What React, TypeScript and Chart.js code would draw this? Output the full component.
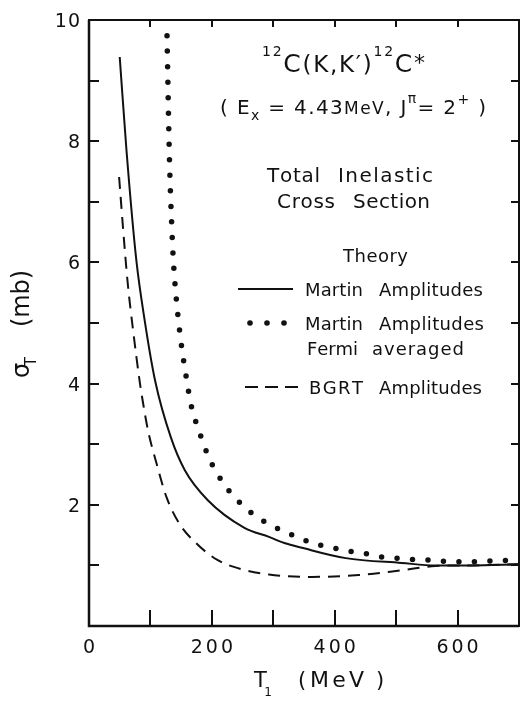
import { useEffect, useRef } from 'react';
import { Chart, registerables } from 'chart.js';

Chart.register(...registerables);

// ---------- data ----------
const energyMartin = [50, 61, 77, 91, 108, 133, 156, 193, 253, 293, 318, 347, 418, 509, 564, 620, 700];
const sigmaMartin = [9.39, 7.85, 6.04, 5.02, 4.03, 3.12, 2.57, 2.08, 1.62, 1.47, 1.37, 1.29, 1.12, 1.04, 1.0, 1.0, 1.02];

const energyFermi = [127, 131, 135, 137, 142, 150, 161, 165, 180, 196, 219, 246, 265, 291, 315, 339, 363, 393, 420, 447, 475, 501, 525, 548, 572, 593, 617, 650, 700];
const sigmaFermi = [9.74, 7.7, 6.53, 6.09, 5.41, 4.67, 3.94, 3.7, 3.19, 2.76, 2.35, 2.03, 1.86, 1.69, 1.57, 1.47, 1.37, 1.3, 1.24, 1.2, 1.14, 1.12, 1.1, 1.09, 1.07, 1.06, 1.06, 1.07, 1.09];

const energyBGRT = [49, 56, 63, 72, 83, 88, 96, 110, 126, 147, 175, 209, 247, 293, 363, 439, 509, 564, 620, 700];
const sigmaBGRT = [7.41, 6.49, 5.66, 4.86, 4.0, 3.68, 3.23, 2.68, 2.13, 1.69, 1.36, 1.09, 0.94, 0.85, 0.81, 0.84, 0.92, 0.99, 1.0, 1.02];

const xTickLabels = [0, 200, 400, 600];
const xTickMarks = [100, 200, 300, 400, 500, 600];
const yTickLabels = [2, 4, 6, 8, 10];
const yTickMarks = [1, 2, 3, 4, 5, 6, 7, 8, 9];

const seriesNames = ['Martin Amplitudes', 'Martin Amplitudes Fermi averaged', 'BGRT Amplitudes'];

const FONT = '"DejaVu Sans", sans-serif';
const INK = '#111111';

type Run = { t: string; size: number; dy?: number };

function drawRunsSpan(ctx: CanvasRenderingContext2D, runs: Run[], x0: number, x1: number, y: number) {
  let natural = 0;
  let n = 0;
  for (const r of runs) {
    ctx.font = `${r.size}px ${FONT}`;
    for (const ch of Array.from(r.t)) {
      natural += ctx.measureText(ch).width;
      n++;
    }
  }
  const extra = n > 1 ? (x1 - x0 - natural) / (n - 1) : 0;
  let x = x0;
  for (const r of runs) {
    ctx.font = `${r.size}px ${FONT}`;
    for (const ch of Array.from(r.t)) {
      ctx.fillText(ch, x, y + (r.dy ?? 0));
      x += ctx.measureText(ch).width + extra;
    }
  }
}

function drawSpaced(ctx: CanvasRenderingContext2D, text: string, x: number, y: number, size: number, spacing: number, align: 'center' | 'right') {
  ctx.font = `${size}px ${FONT}`;
  const chars = Array.from(text);
  let w = 0;
  chars.forEach((c) => (w += ctx.measureText(c).width));
  w += spacing * (chars.length - 1);
  let cx = align === 'center' ? x - w / 2 : x - w;
  for (const c of chars) {
    ctx.fillText(c, cx, y);
    cx += ctx.measureText(c).width + spacing;
  }
}

const framePlugin = {
  id: 'framePlugin',
  afterDraw(chart: any) {
    const ctx: CanvasRenderingContext2D = chart.ctx;
    const a = chart.chartArea;
    const xs = chart.scales.x;
    const ys = chart.scales.y;
    ctx.save();
    ctx.strokeStyle = INK;
    ctx.fillStyle = INK;
    ctx.textAlign = 'left';
    ctx.textBaseline = 'alphabetic';
    ctx.lineCap = 'butt';

    // frame
    ctx.lineWidth = 2;
    ctx.strokeRect(a.left, a.top, a.right - a.left, a.bottom - a.top);
    ctx.lineWidth = 2.5;
    ctx.beginPath();
    ctx.moveTo(a.left, a.top);
    ctx.lineTo(a.left, a.bottom);
    ctx.lineTo(a.right, a.bottom);
    ctx.stroke();

    // inward tick marks
    ctx.lineWidth = 2;
    ctx.beginPath();
    for (const v of xTickMarks) {
      const px = Math.round(xs.getPixelForValue(v));
      ctx.moveTo(px, a.bottom);
      ctx.lineTo(px, a.bottom - 16);
      ctx.moveTo(px, a.top);
      ctx.lineTo(px, a.top + 7);
    }
    for (const v of yTickMarks) {
      const py = Math.round(ys.getPixelForValue(v));
      ctx.moveTo(a.left, py);
      ctx.lineTo(a.left + 10, py);
      ctx.moveTo(a.right, py);
      ctx.lineTo(a.right - 8, py);
    }
    ctx.stroke();

    // tick labels
    for (const v of xTickLabels) {
      drawSpaced(ctx, String(v), xs.getPixelForValue(v), 653, 19, 3, 'center');
    }
    for (const v of yTickLabels) {
      drawSpaced(ctx, String(v), 80, ys.getPixelForValue(v) + 7, 19, 1, 'right');
    }

    // axis titles
    drawRunsSpan(ctx, [{ t: 'T', size: 21 }, { t: '1', size: 12, dy: 9 }], 254, 272, 687);
    drawRunsSpan(ctx, [{ t: '(', size: 21 }], 298, 305, 687);
    drawRunsSpan(ctx, [{ t: 'MeV', size: 22 }], 310, 364, 687);
    drawRunsSpan(ctx, [{ t: ')', size: 21 }], 376, 384, 687);
    ctx.save();
    ctx.translate(29, 380);
    ctx.rotate(-Math.PI / 2);
    drawRunsSpan(ctx, [{ t: 'σ', size: 24 }, { t: 'T', size: 15, dy: 7 }], 2, 23, 0);
    drawRunsSpan(ctx, [{ t: '(mb)', size: 24 }], 53, 110, 0);
    ctx.restore();

    // reaction label
    drawRunsSpan(
      ctx,
      [
        { t: '12', size: 14, dy: -16 },
        { t: 'C', size: 25 },
        { t: '(', size: 23 },
        { t: 'K', size: 23 },
        { t: ',', size: 23 },
        { t: 'K′', size: 23 },
        { t: ')', size: 23 },
        { t: '12', size: 14, dy: -16 },
        { t: 'C', size: 25 },
        { t: '*', size: 22, dy: -2 },
      ],
      262,
      425,
      72
    );
    drawRunsSpan(
      ctx,
      [
        { t: '( E', size: 20 },
        { t: 'x', size: 14, dy: 6 },
        { t: ' = 4.43', size: 20 },
        { t: 'MeV', size: 17 },
        { t: ', J', size: 20 },
        { t: 'π', size: 14, dy: -11 },
        { t: '= 2', size: 20 },
        { t: '+', size: 14, dy: -10 },
        { t: ' )', size: 20 },
      ],
      220,
      486,
      114
    );

    drawRunsSpan(ctx, [{ t: 'Total', size: 20 }], 267, 320, 182);
    drawRunsSpan(ctx, [{ t: 'Inelastic', size: 20 }], 338, 433, 182);
    drawRunsSpan(ctx, [{ t: 'Cross', size: 20 }], 277, 335, 208);
    drawRunsSpan(ctx, [{ t: 'Section', size: 20 }], 353, 430, 208);
    drawRunsSpan(ctx, [{ t: 'Theory', size: 18 }], 343, 408, 262);

    // legend
    const words = seriesNames.map((s) => s.split(' '));
    drawRunsSpan(ctx, [{ t: words[0][0], size: 18 }], 305, 363, 296);
    drawRunsSpan(ctx, [{ t: words[0][1], size: 18 }], 379, 483, 296);
    drawRunsSpan(ctx, [{ t: words[1][0], size: 18 }], 305, 363, 330);
    drawRunsSpan(ctx, [{ t: words[1][1], size: 18 }], 379, 484, 330);
    drawRunsSpan(ctx, [{ t: words[1][2], size: 18 }], 307, 358, 355);
    drawRunsSpan(ctx, [{ t: words[1][3], size: 18 }], 372, 464, 355);
    drawRunsSpan(ctx, [{ t: words[2][0], size: 18 }], 309, 363, 394);
    drawRunsSpan(ctx, [{ t: words[2][1], size: 18 }], 379, 482, 394);

    ctx.lineWidth = 2;
    ctx.beginPath();
    ctx.moveTo(238, 289);
    ctx.lineTo(293, 289);
    ctx.stroke();

    for (const dx of [250, 267, 284]) {
      ctx.beginPath();
      ctx.arc(dx, 323, 2.8, 0, Math.PI * 2);
      ctx.fill();
    }

    ctx.setLineDash([13, 7]);
    ctx.beginPath();
    ctx.moveTo(245, 387);
    ctx.lineTo(298, 387);
    ctx.stroke();
    ctx.setLineDash([]);

    ctx.restore();
  },
};

export default function App() {
  const canvasRef = useRef<HTMLCanvasElement | null>(null);

  useEffect(() => {
    const canvas = canvasRef.current;
    if (!canvas) return;
    const toPts = (xs: number[], ys: number[]) => xs.map((x, i) => ({ x, y: ys[i] }));
    const chart = new Chart(canvas, {
      type: 'line',
      data: {
        datasets: [
          {
            label: seriesNames[0],
            data: toPts(energyMartin, sigmaMartin),
            borderColor: INK,
            borderWidth: 2,
            pointRadius: 0,
            cubicInterpolationMode: 'monotone',
            fill: false,
          },
          {
            label: seriesNames[1],
            data: toPts(energyFermi, sigmaFermi),
            borderColor: INK,
            borderWidth: 5.5,
            borderDash: [0, 15.5],
            borderCapStyle: 'round',
            pointRadius: 0,
            cubicInterpolationMode: 'monotone',
            fill: false,
          },
          {
            label: seriesNames[2],
            data: toPts(energyBGRT, sigmaBGRT),
            borderColor: INK,
            borderWidth: 2,
            borderDash: [12, 8],
            pointRadius: 0,
            cubicInterpolationMode: 'monotone',
            fill: false,
          },
        ],
      },
      options: {
        responsive: false,
        animation: false,
        devicePixelRatio: 1,
        events: [],
        layout: { padding: { top: 20, right: 1, left: 0, bottom: 0 } },
        plugins: { legend: { display: false }, tooltip: { enabled: false }, title: { display: false } },
        scales: {
          x: {
            type: 'linear',
            min: 0,
            max: 700,
            grid: { display: false },
            border: { display: false },
            ticks: { display: false },
            afterFit: (s: any) => {
              s.height = 76;
            },
          },
          y: {
            type: 'linear',
            min: 0,
            max: 10,
            grid: { display: false },
            border: { display: false },
            ticks: { display: false },
            afterFit: (s: any) => {
              s.width = 89;
            },
          },
        },
      },
      plugins: [framePlugin],
    } as any);
    return () => chart.destroy();
  }, []);

  return (
    <div style={{ position: 'absolute', left: 0, top: 0, width: 520, height: 702, background: '#ffffff' }}>
      <canvas ref={canvasRef} width={520} height={702} style={{ display: 'block' }} />
    </div>
  );
}
